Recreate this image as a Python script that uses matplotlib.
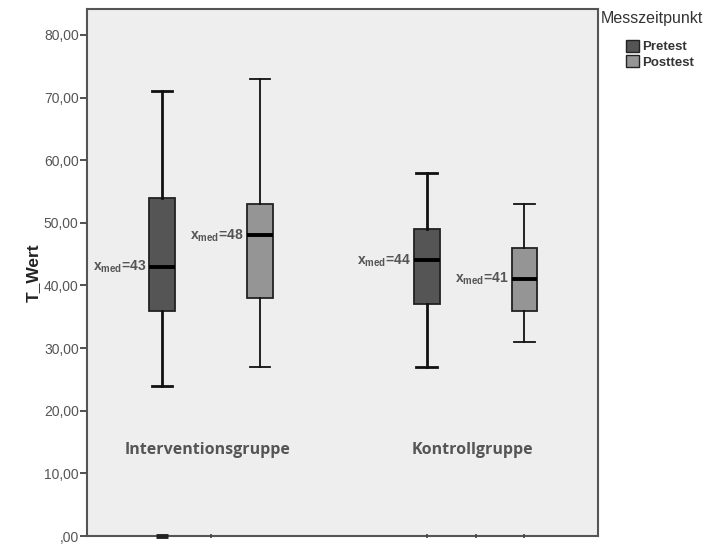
import numpy as np
import matplotlib.pyplot as plt
from matplotlib.patches import Patch

# data
groups = ['Interventionsgruppe', 'Kontrollgruppe']
timepoints = ['Pretest', 'Posttest']
whislo = [[24, 27], [27, 31]]
q1 = [[36, 38], [37, 36]]
med = [[43, 48], [44, 41]]
q3 = [[54, 53], [49, 46]]
whishi = [[71, 73], [58, 53]]
yticks = [0, 10, 20, 30, 40, 50, 60, 70, 80]

colors = ['#555555', '#959595']
bg = '#eeeeee'
txt = '#555555'

plt.rcParams['font.family'] = ['Liberation Sans', 'DejaVu Sans']

fig = plt.figure(figsize=(7.19, 5.46), dpi=100)
ax = fig.add_axes([87 / 719, 10 / 546, 511 / 719, 527 / 546])
ax.set_facecolor(bg)

offset = 0.185
width = 0.098
for gi, g in enumerate(groups):
    for ti, t in enumerate(timepoints):
        pos = gi + (ti * 2 - 1) * offset
        stats = [dict(whislo=whislo[gi][ti], q1=q1[gi][ti], med=med[gi][ti],
                      q3=q3[gi][ti], whishi=whishi[gi][ti], fliers=[])]
        lw = 2.0 if ti == 0 else 1.3
        ax.bxp(stats, positions=[pos], widths=width, capwidths=width * 0.78,
               patch_artist=True, showfliers=False,
               boxprops=dict(facecolor=colors[ti], edgecolor='#222222', linewidth=1.3),
               whiskerprops=dict(color='#111111', linewidth=lw),
               capprops=dict(color='#111111', linewidth=lw),
               medianprops=dict(color='#000000', linewidth=2.8))
        ax.text(pos - width / 2 - 0.012, med[gi][ti], r'$\mathregular{x_{med}}$=%d' % med[gi][ti],
                ha='right', va='center', fontsize=10, color=txt, fontweight='bold')
    ax.text(gi - 0.012, 13.7, g, ha='center', va='center', fontsize=11.5,
            color=txt, family=['Open Sans', 'DejaVu Sans'], fontweight='bold')

# little marks on the bottom axis
ax.plot(-offset, 0, marker='_', color='#222222', markersize=9, mew=3.5, clip_on=False, zorder=5)
for p in [0, 1 - offset, 1, 1 + offset]:
    ax.plot(p, 0, marker='|', color='#444444', markersize=3, mew=1.2, clip_on=False, zorder=5)

ax.set_xlim(-0.469, 1.463)
ax.set_ylim(0, 84.15)
ax.set_xticks([])
ax.set_yticks(yticks)
ax.set_yticklabels([('%.2f' % v).replace('.', ',').lstrip('0') if v == 0 else ('%.2f' % v).replace('.', ',')
                    for v in yticks])
ax.tick_params(axis='y', length=5, width=1.3, color='#444444', labelsize=10,
               labelcolor=txt, pad=1)
for s in ax.spines.values():
    s.set_color('#555555')
    s.set_linewidth(1.5)
ax.set_ylabel('T_Wert', fontsize=12.5, fontweight='bold', color='#222222', labelpad=2)

fig.text(601 / 719, 1 - 19 / 546, 'Messzeitpunkt', fontsize=11.5, color='#333333',
         ha='left', va='center')
handles = [Patch(facecolor=colors[i], edgecolor='#222222', linewidth=1.0, label=t)
           for i, t in enumerate(timepoints)]
fig.legend(handles=handles, loc='upper left', bbox_to_anchor=(626 / 719, 1 - 40 / 546),
           frameon=False, handlelength=1.0, handleheight=1.0,
           handletextpad=0.2, labelspacing=0.15, borderpad=0, borderaxespad=0,
           prop=dict(size=9.5, weight='bold'), labelcolor='#333333')

fig.savefig('out.png', dpi=100, facecolor='white')
